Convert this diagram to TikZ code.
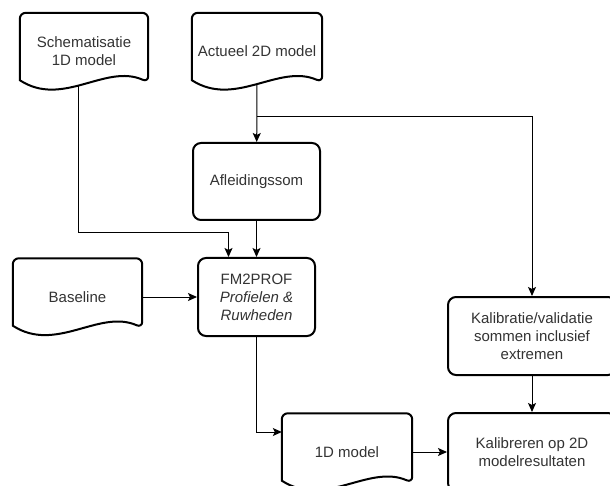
\documentclass[tikz,border=0pt]{standalone}
\usepackage{fontspec}
\setmainfont{Liberation Sans}
\usepackage{tikz}
\usetikzlibrary{arrows.meta,positioning,calc}

% outline of a document node: flat top, wavy bottom
\newcommand\docoutline[1]{%
  \draw[docline, rounded corners=6pt] ([yshift=10pt]#1.south west) -- (#1.north west) -- (#1.north east) -- ([yshift=8pt]#1.south east)
    [sharp corners] .. controls ($(#1.south west)!0.667!(#1.south east)+(0pt,27pt)$) and ($(#1.south west)!0.333!(#1.south east)+(0pt,-18pt)$) .. ([yshift=10pt]#1.south west) -- cycle;}

\begin{document}
\begin{tikzpicture}[
    x=1pt, y=-1pt,
    font=\fontsize{15}{18}\selectfont,
    box/.style={draw, line width=2pt, rounded corners=8pt, fill=white, text=black!80, align=center},
    doc/.style={text=black!80, align=center, minimum width=128pt, minimum height=77pt},
    docline/.style={draw, line width=2pt},
    line/.style={-{Stealth[length=9pt,width=8pt,inset=2pt]}, line width=1pt}
  ]
    \useasboundingbox (0,0) rectangle (610,486);

    \node[doc] (schem) at (84,51.5) {Schematisatie\\1D model};
    \node[doc, minimum width=130pt] (act) at (257,51.5) {Actueel 2D model};
    \node[box, minimum width=127pt, minimum height=77pt] (afl) at (256.5,181.5) {Afleidingssom};
    \node[box, minimum width=117pt, minimum height=78pt] (fm) at (256.5,297) {FM2PROF\\\textit{Profielen \&}\\\textit{Ruwheden}};
    \node[doc, minimum width=129pt] (base) at (77.5,297) {Baseline};
    \node[box, minimum width=168pt, minimum height=78pt] (kal) at (532,336) {Kalibratie/validatie\\sommen inclusief\\extremen};
    \node[doc, minimum width=130pt] (oned) at (347,452) {1D model};
    \node[box, minimum width=168pt, minimum height=78pt] (kalib) at (532,452) {Kalibreren op 2D\\modelresultaten};

    \docoutline{schem}
    \docoutline{act}
    \docoutline{base}
    \docoutline{oned}

    \draw[line] ([xshift=-6pt,yshift=4pt]schem.south) -- ([xshift=-6pt]schem.south |- 0,233) -| ([xshift=-28pt]fm.north);
    \draw[line] ([yshift=6pt]act.south) -- (afl);
    \draw[line] (act.south |- 0,117) -| (kal.north);
    \draw[line] (afl) -- (fm);
    \draw[line] (base) -- (fm);
    \draw[line] (fm.south) |- ([yshift=20pt]oned.west);
    \draw[line] (oned) -- (kalib);
    \draw[line] (kal) -- (kalib);
  \end{tikzpicture}
\end{document}
